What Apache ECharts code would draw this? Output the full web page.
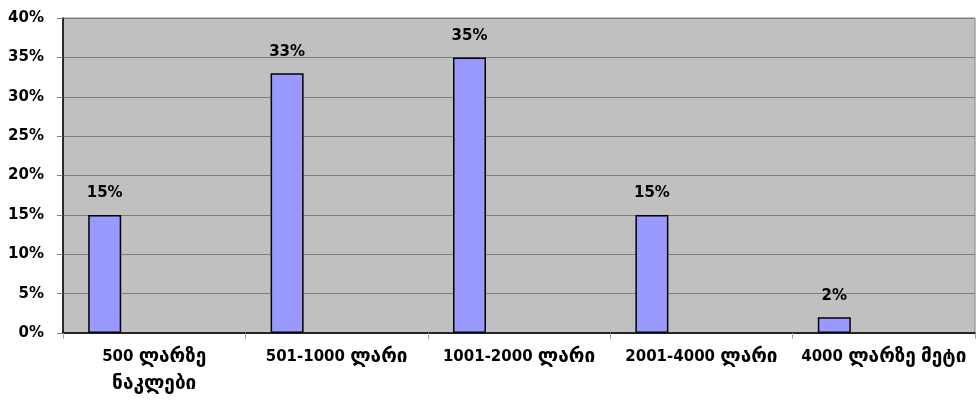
<!DOCTYPE html>
<html>
<head>
<meta charset="utf-8">
<script src="https://cdn.jsdelivr.net/npm/echarts@6/dist/echarts.min.js"></script>
<style>
html,body{margin:0;padding:0;background:#fff;}
#c{width:976px;height:403px;}
</style>
</head>
<body>
<div id="c"></div>
<script>
const categories = ['500 ლარზე\nნაკლები', '501-1000 ლარი', '1001-2000 ლარი', '2001-4000 ლარი', '4000 ლარზე მეტი'];
const values = [15, 33, 35, 15, 2];
const yTicks = [0, 5, 10, 15, 20, 25, 30, 35, 40];

const FONT = '"DejaVu Sans", sans-serif';
const chart = echarts.init(document.getElementById('c'), null, {renderer: 'canvas'});
const blank = () => ({type: 'bar', data: categories.map(() => null), barWidth: 33, barGap: '0%', silent: true});
const geoRich = s => s.replace(/([\u10A0-\u10FF]+)/g, '{g|$1}');
chart.setOption({
  animation: false,
  backgroundColor: '#fff',
  grid: {left: 63, top: 18, right: 1, bottom: 70, show: true, backgroundColor: '#c0c0c0', borderColor: '#808080', borderWidth: 1},
  xAxis: {
    type: 'category', data: categories,
    axisLine: {lineStyle: {color: '#000', width: 1.5}},
    axisTick: {show: true, length: 6, lineStyle: {color: '#a0a0a0'}},
    axisLabel: {
      interval: 0, margin: 11, color: '#000', fontFamily: FONT, fontWeight: 'bold', fontSize: 15, lineHeight: 27,
      formatter: geoRich,
      rich: {g: {fontFamily: FONT, fontWeight: 'bold', fontSize: 19, lineHeight: 27, color: '#000'}}
    }
  },
  yAxis: {
    type: 'value', min: yTicks[0], max: yTicks[yTicks.length - 1], interval: 5,
    axisLine: {show: true, lineStyle: {color: '#000', width: 1.5}},
    axisTick: {show: true, length: 6, lineStyle: {color: '#808080'}},
    splitLine: {lineStyle: {color: '#808080', width: 1}},
    axisLabel: {formatter: '{value}%', margin: 19, color: '#000', fontFamily: FONT, fontWeight: 'bold', fontSize: 15}
  },
  series: [
    {
      type: 'bar', data: values, barWidth: 33, barGap: '0%',
      itemStyle: {color: '#9999ff', borderColor: '#000', borderWidth: 1.5},
      label: {show: true, position: 'top', distance: 14, formatter: '{c}%', color: '#000', fontFamily: FONT, fontWeight: 'bold', fontSize: 15}
    },
    blank(), blank(), blank()
  ]
});
</script>
</body>
</html>
